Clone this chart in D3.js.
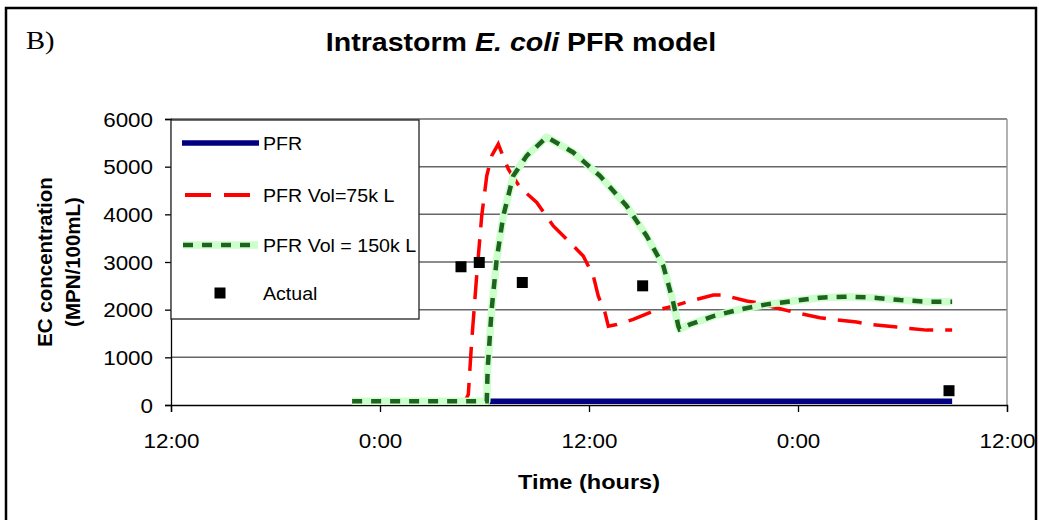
<!DOCTYPE html>
<html>
<head>
<meta charset="utf-8">
<script src="https://cdn.jsdelivr.net/npm/d3@7"></script>
<style>
  body { margin: 0; background: #fff; }
  text { font-family: "Liberation Sans", Arial, sans-serif; }
</style>
</head>
<body>
<div id="chart"></div>
<script>
// axis ticks
const xTickHours = [-12, 0, 12, 24, 36];
const xTickLabels = ["12:00", "0:00", "12:00", "0:00", "12:00"];
const yTicks = [0, 1000, 2000, 3000, 4000, 5000, 6000];

// series (hours relative to midnight of day 1, EC in MPN/100mL)
const pfrHours = [-1.6, 32.85];
const pfrValues = [80, 80];

const vol75Hours = [-1.6, 4.88, 5.07, 5.26, 5.55, 5.84, 6.13, 6.41, 6.79, 7.37, 8.04, 9.0, 9.95, 10.91, 11.67, 12.25, 12.53, 12.92, 13.11, 13.59, 14.54, 15.69, 16.84, 17.80, 19.14, 19.71, 21.05, 21.63, 22.97, 23.73, 25.26, 26.03, 27.37, 28.13, 29.67, 30.43, 31.39, 32.85];
const vol75Values = [80, 80, 220, 1313, 2706, 3966, 4807, 5227, 5473, 4947, 4563, 4248, 3756, 3407, 3126, 2706, 2286, 1937, 1655, 1690, 1796, 1970, 2075, 2181, 2307, 2307, 2181, 2146, 2020, 1950, 1832, 1796, 1740, 1691, 1635, 1607, 1571, 1571];

const vol150Hours = [-1.6, 6.13, 6.18, 6.41, 6.70, 7.08, 7.65, 8.42, 9.57, 11.10, 12.63, 14.16, 15.31, 16.27, 16.84, 17.13, 17.2, 17.80, 19.14, 20.67, 22.20, 23.73, 25.26, 26.80, 28.32, 29.86, 31.39, 32.85];
const vol150Values = [80, 80, 746, 2006, 3057, 3966, 4807, 5227, 5620, 5298, 4807, 4176, 3546, 2916, 2147, 1655, 1590, 1690, 1865, 2006, 2111, 2181, 2252, 2273, 2252, 2202, 2167, 2167];

const actualHours = [4.65, 5.70, 8.17, 15.08, 32.67];
const actualValues = [2900, 2990, 2570, 2500, 300];

const legendLabels = ["PFR", "PFR Vol=75k L", "PFR Vol = 150k L", "Actual"];

const W = 1039, H = 520;
const plotLeft = 171, plotRight = 1007, plotTop = 119, plotBottom = 405;

const svg = d3.select("#chart").append("svg")
  .attr("width", W).attr("height", H);

// the original picture is a bit wider than its fonts
function stretch(sel, k) {
  sel.each(function () {
    const w = this.getComputedTextLength();
    d3.select(this).attr("textLength", w * k).attr("lengthAdjust", "spacingAndGlyphs");
  });
}

// outer frame
svg.append("rect")
  .attr("x", 6).attr("y", 8).attr("width", 1030).attr("height", 530)
  .attr("fill", "none").attr("stroke", "#000").attr("stroke-width", 2.5);

const x = d3.scaleLinear().domain([-12, 36]).range([plotLeft, plotRight]);
const y = d3.scaleLinear().domain([0, 6000]).range([plotBottom, plotTop]);

// gridlines
svg.append("g")
  .selectAll("line")
  .data(yTicks.filter(d => d > 0))
  .enter().append("line")
  .attr("x1", plotLeft).attr("x2", plotRight)
  .attr("y1", d => y(d)).attr("y2", d => y(d))
  .attr("stroke", "#666").attr("stroke-width", 1.5);

// plot border right
svg.append("line")
  .attr("x1", plotRight).attr("x2", plotRight).attr("y1", plotTop).attr("y2", plotBottom)
  .attr("stroke", "#999").attr("stroke-width", 1.5);

// axes
const xAxis = svg.append("g")
  .attr("transform", `translate(0,${plotBottom})`)
  .call(d3.axisBottom(x).tickValues(xTickHours).tickSize(7).tickPadding(22)
    .tickFormat((d, i) => xTickLabels[i]));
const yAxis = svg.append("g")
  .attr("transform", `translate(${plotLeft},0)`)
  .call(d3.axisLeft(y).tickValues(yTicks).tickSize(6).tickPadding(12)
    .tickFormat(d3.format("d")));

[xAxis, yAxis].forEach(a => {
  a.select(".domain").attr("stroke", "#000").attr("stroke-width", 1.3);
  a.selectAll(".tick line").attr("stroke", "#000").attr("stroke-width", 1.3);
  a.selectAll("text").attr("font-size", 20).attr("fill", "#000")
    .attr("font-family", "Liberation Sans, Arial, sans-serif");
});
yAxis.selectAll("text").attr("dy", "0.36em");
stretch(xAxis.selectAll("text"), 1.12);
stretch(yAxis.selectAll("text"), 1.12);

// series
const line = d3.line().x(d => x(d[0])).y(d => y(d[1]));
const zip = (a, b) => a.map((v, i) => [v, b[i]]);

svg.append("path").datum(zip(pfrHours, pfrValues))
  .attr("d", line).attr("fill", "none")
  .attr("stroke", "#000080").attr("stroke-width", 5.5);

svg.append("path").datum(zip(vol75Hours, vol75Values))
  .attr("d", line).attr("fill", "none")
  .attr("stroke", "#ff0000").attr("stroke-width", 3.5)
  .attr("stroke-dasharray", "24,12");

const g150 = zip(vol150Hours, vol150Values);
svg.append("path").datum(g150)
  .attr("d", line).attr("fill", "none")
  .attr("stroke", "#ccffcc").attr("stroke-width", 7.5)
  .attr("stroke-linejoin", "round");
svg.append("path").datum(g150)
  .attr("d", line).attr("fill", "none")
  .attr("stroke", "#1e631e").attr("stroke-width", 4.5)
  .attr("stroke-dasharray", "10,9");

svg.append("g")
  .selectAll("rect")
  .data(zip(actualHours, actualValues))
  .enter().append("rect")
  .attr("x", d => x(d[0]) - 5.5).attr("y", d => y(d[1]) - 5.5)
  .attr("width", 11).attr("height", 11)
  .attr("fill", "#000");

// legend
const lg = svg.append("g");
lg.append("rect")
  .attr("x", plotLeft).attr("y", 120).attr("width", 248).attr("height", 199)
  .attr("fill", "#fff").attr("stroke", "#222").attr("stroke-width", 1.3);

const rowY = [143, 195, 245, 293];
lg.append("line").attr("x1", 182).attr("x2", 259).attr("y1", rowY[0]).attr("y2", rowY[0])
  .attr("stroke", "#000080").attr("stroke-width", 5.5);
lg.append("line").attr("x1", 185).attr("x2", 251).attr("y1", rowY[1]).attr("y2", rowY[1])
  .attr("stroke", "#ff0000").attr("stroke-width", 3.8).attr("stroke-dasharray", "26,13");
lg.append("line").attr("x1", 183).attr("x2", 258).attr("y1", rowY[2]).attr("y2", rowY[2])
  .attr("stroke", "#ccffcc").attr("stroke-width", 7.5);
lg.append("line").attr("x1", 183).attr("x2", 258).attr("y1", rowY[2]).attr("y2", rowY[2])
  .attr("stroke", "#1e631e").attr("stroke-width", 4.5).attr("stroke-dasharray", "10,9");
lg.append("rect").attr("x", 214.5).attr("y", rowY[3] - 5.5).attr("width", 11).attr("height", 11)
  .attr("fill", "#000");

const lgText = lg.selectAll("text.lab")
  .data(legendLabels)
  .enter().append("text")
  .attr("class", "lab")
  .attr("x", 263)
  .attr("y", (d, i) => rowY[i] + 6.5)
  .attr("font-size", 17.5)
  .text(d => d);
stretch(lgText, 1.12);

// title
const title = svg.append("text")
  .attr("x", 521).attr("y", 51)
  .attr("text-anchor", "middle")
  .attr("font-size", 25.5).attr("font-weight", "bold");
title.append("tspan").text("Intrastorm ");
title.append("tspan").attr("font-style", "italic").text("E. coli");
title.append("tspan").text(" PFR model");
stretch(title, 1.12);

const tag = svg.append("text")
  .attr("x", 26).attr("y", 49)
  .style("font-family", "'Liberation Serif', 'Times New Roman', serif")
  .attr("font-size", 26)
  .text("B)");
stretch(tag, 1.1);

// axis titles
const xt = svg.append("text")
  .attr("x", 589).attr("y", 489)
  .attr("text-anchor", "middle")
  .attr("font-size", 21).attr("font-weight", "bold")
  .text("Time (hours)");
stretch(xt, 1.12);

svg.append("text")
  .attr("transform", "translate(52,262) rotate(-90)")
  .attr("text-anchor", "middle")
  .attr("font-size", 20.5).attr("font-weight", "bold")
  .text("EC concentration");
svg.append("text")
  .attr("transform", "translate(80,262) rotate(-90)")
  .attr("text-anchor", "middle")
  .attr("font-size", 20.5).attr("font-weight", "bold")
  .text("(MPN/100mL)");
</script>
</body>
</html>
